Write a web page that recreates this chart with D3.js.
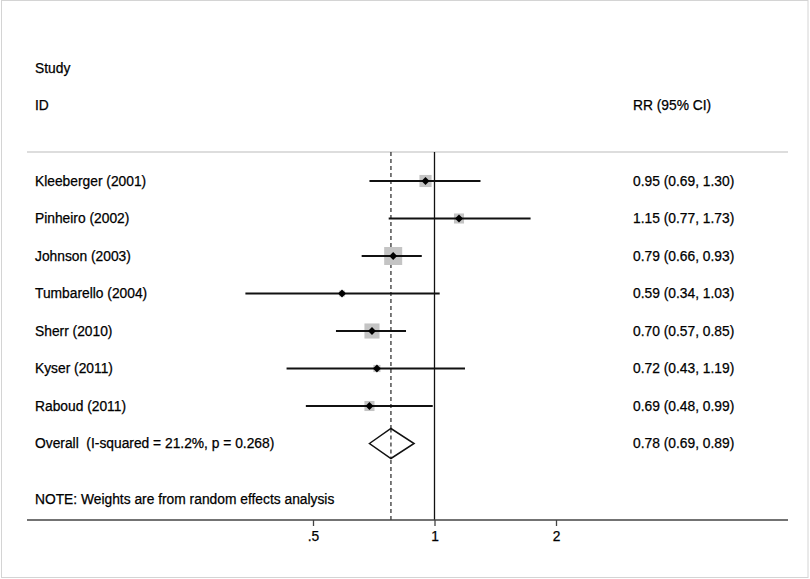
<!DOCTYPE html>
<html>
<head>
<meta charset="utf-8">
<script src="https://cdn.jsdelivr.net/npm/d3@7"></script>
<style>
  body { margin: 0; background: #fff; }
  svg text { font-family: "Liberation Sans", Arial, Helvetica, sans-serif; font-size: 13.8px; fill: #000;
    stroke: #000; stroke-width: 0.25px; white-space: pre; }
</style>
</head>
<body>
<div id="plot-container"></div>
<script>
// study data
const studies = ["Kleeberger (2001)", "Pinheiro (2002)", "Johnson (2003)", "Tumbarello (2004)",
  "Sherr (2010)", "Kyser (2011)", "Raboud (2011)"];
const rr = [0.95, 1.15, 0.79, 0.59, 0.70, 0.72, 0.69];
const lower = [0.69, 0.77, 0.66, 0.34, 0.57, 0.43, 0.48];
const upper = [1.30, 1.73, 0.93, 1.03, 0.85, 1.19, 0.99];
const weights = [14.5, 10.0, 32.0, 3.5, 22.5, 5.0, 10.0];
const overall = { label: "Overall  (I-squared = 21.2%, p = 0.268)", rr: 0.78, lo: 0.69, hi: 0.89 };
const tickValues = [0.5, 1, 2];
const tickLabels = [".5", "1", "2"];

const width = 810, height = 579;
const svg = d3.select("#plot-container").append("svg")
  .attr("width", width).attr("height", height);

// outer frame
svg.append("rect").attr("x", 1.5).attr("y", 0.5).attr("width", 806.5).attr("height", 577)
  .attr("fill", "none").attr("stroke", "#d4d4d4");

const x = d3.scaleLog().domain([0.5, 2]).range([313, 556]);
const y = d3.scaleLinear().domain([0, 7]).range([181, 443.5]);
const box = d3.scaleSqrt().domain([0, d3.max(weights)]).range([0, 18]);

const lineTop = 152, axisY = 520, leftX = 27, rightX = 788;
const textX = 35, valX = 633;

const fmt = d3.format(".2f");
const ciText = (m, l, u) => `${fmt(m)} (${fmt(l)}, ${fmt(u)})`;

// headers
svg.append("text").attr("x", textX).attr("y", 68).attr("dy", "0.35em").text("Study");
svg.append("text").attr("x", textX).attr("y", 105).attr("dy", "0.35em").text("ID");
svg.append("text").attr("x", valX).attr("y", 105).attr("dy", "0.35em").text("RR (95% CI)");

// separator
svg.append("line").attr("x1", leftX).attr("x2", rightX).attr("y1", lineTop).attr("y2", lineTop)
  .attr("stroke", "#bbb").attr("stroke-width", 1.2);

// null line and overall dashed line
svg.append("line").attr("x1", x(1)).attr("x2", x(1)).attr("y1", lineTop).attr("y2", axisY)
  .attr("stroke", "#111").attr("stroke-width", 1.3);
svg.append("line").attr("x1", x(overall.rr)).attr("x2", x(overall.rr)).attr("y1", lineTop).attr("y2", axisY)
  .attr("stroke", "#111").attr("stroke-width", 1.1).attr("stroke-dasharray", "4,3");

// study rows
const rows = svg.append("g").selectAll("g").data(studies).join("g")
  .attr("transform", (d, i) => `translate(0,${y(i)})`);

rows.append("text").attr("x", textX).attr("dy", "0.35em").text(d => d);
rows.append("text").attr("x", valX).attr("dy", "0.35em")
  .text((d, i) => ciText(rr[i], lower[i], upper[i]));

rows.append("rect")
  .attr("x", (d, i) => x(rr[i]) - box(weights[i]) / 2)
  .attr("y", (d, i) => -box(weights[i]) / 2)
  .attr("width", (d, i) => box(weights[i]))
  .attr("height", (d, i) => box(weights[i]))
  .attr("fill", "#c4c4c4");

rows.append("line")
  .attr("x1", (d, i) => x(lower[i])).attr("x2", (d, i) => x(upper[i]))
  .attr("stroke", "#111").attr("stroke-width", 1.9);

rows.append("path")
  .attr("transform", (d, i) => `translate(${x(rr[i])},0)`)
  .attr("d", d3.symbol(d3.symbolDiamond2, 40)())
  .attr("fill", "#000");

// overall row
const oy = y(studies.length);
svg.append("text").attr("x", textX).attr("y", oy).attr("dy", "0.35em").text(overall.label);
svg.append("text").attr("x", valX).attr("y", oy).attr("dy", "0.35em")
  .text(ciText(overall.rr, overall.lo, overall.hi));
svg.append("path")
  .attr("d", `M${x(overall.lo)},${oy}L${x(overall.rr)},${oy - 15}L${x(overall.hi)},${oy}L${x(overall.rr)},${oy + 15}Z`)
  .attr("fill", "#fff").attr("stroke", "#111").attr("stroke-width", 1.5);
// dashed line stays visible through the diamond
svg.append("line").attr("x1", x(overall.rr)).attr("x2", x(overall.rr)).attr("y1", oy - 15).attr("y2", oy + 15)
  .attr("stroke", "#111").attr("stroke-width", 1.1).attr("stroke-dasharray", "4,3");

svg.append("text").attr("x", textX).attr("y", 499).attr("dy", "0.35em")
  .text("NOTE: Weights are from random effects analysis");

// axis
svg.append("line").attr("x1", leftX).attr("x2", rightX).attr("y1", axisY).attr("y2", axisY)
  .attr("stroke", "#444").attr("stroke-width", 1.6);
const axis = svg.append("g").attr("transform", `translate(0,${axisY})`)
  .call(d3.axisBottom(x).tickValues(tickValues).tickFormat((d, i) => tickLabels[i]).tickSize(6).tickPadding(5));
axis.select(".domain").remove();
axis.selectAll(".tick line").attr("stroke", "#444").attr("stroke-width", 1.3);
axis.selectAll(".tick text").style("font-size", "13.8px").attr("fill", "#000");
</script>
</body>
</html>
